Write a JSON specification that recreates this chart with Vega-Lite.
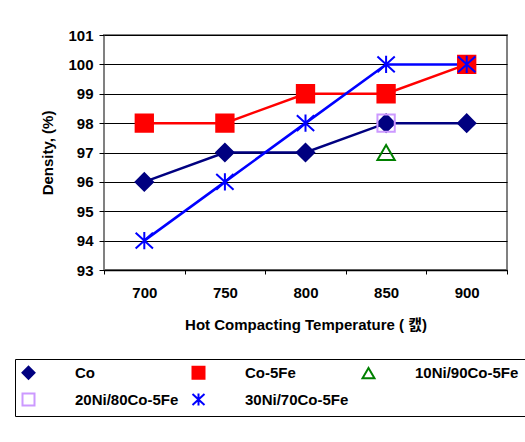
{
  "$schema": "https://vega.github.io/schema/vega-lite/v6.json",
  "width": 403,
  "height": 235,
  "autosize": "none",
  "padding": {"left": 104, "top": 35, "right": 18, "bottom": 172},
  "background": "white",
  "config": {
    "font": "Liberation Sans, Arial, Noto Sans CJK KR",
    "view": {"stroke": "#808080", "strokeWidth": 2},
    "axis": {
      "labelFont": "Liberation Sans, Arial, Noto Sans CJK KR",
      "labelFontSize": 15,
      "labelFontWeight": "bold",
      "labelColor": "black",
      "titleFont": "Liberation Sans, Arial, Noto Sans CJK KR",
      "titleFontSize": 15,
      "titleFontWeight": "bold",
      "titleColor": "black",
      "tickColor": "black",
      "domainColor": "black"
    },
    "legend": {
      "columns": 3,
      "columnPadding": 9,
      "rowPadding": 6,
      "padding": 6,
      "strokeColor": "black",
      "fillColor": "white",
      "labelFont": "Liberation Sans, Arial",
      "labelFontSize": 15,
      "labelFontWeight": "bold",
      "labelColor": "black",
      "labelOffset": 39,
      "labelLimit": 220,
      "symbolSize": 144,
      "symbolStrokeWidth": 2
    }
  },
  "data": {
    "values": [
      {"series": "Co", "temp": 700, "density": 96},
      {"series": "Co", "temp": 750, "density": 97},
      {"series": "Co", "temp": 800, "density": 97},
      {"series": "Co", "temp": 850, "density": 98},
      {"series": "Co", "temp": 900, "density": 98},
      {"series": "Co-5Fe", "temp": 700, "density": 98},
      {"series": "Co-5Fe", "temp": 750, "density": 98},
      {"series": "Co-5Fe", "temp": 800, "density": 99},
      {"series": "Co-5Fe", "temp": 850, "density": 99},
      {"series": "Co-5Fe", "temp": 900, "density": 100},
      {"series": "10Ni/90Co-5Fe", "temp": 850, "density": 97},
      {"series": "20Ni/80Co-5Fe", "temp": 850, "density": 98},
      {"series": "30Ni/70Co-5Fe", "temp": 700, "density": 94},
      {"series": "30Ni/70Co-5Fe", "temp": 750, "density": 96},
      {"series": "30Ni/70Co-5Fe", "temp": 800, "density": 98},
      {"series": "30Ni/70Co-5Fe", "temp": 850, "density": 100},
      {"series": "30Ni/70Co-5Fe", "temp": 900, "density": 100}
    ]
  },
  "encoding": {
    "x": {
      "field": "temp",
      "type": "ordinal",
      "scale": {"type": "band", "paddingInner": 0, "paddingOuter": 0, "domain": [700, 750, 800, 850, 900]},
      "axis": {
        "title": "Hot Compacting Temperature ( 캜)",
        "labelAngle": 0,
        "tickBand": "extent",
        "tickSize": 4,
        "labelPadding": 11,
        "titlePadding": 17,
        "grid": false,
        "domainWidth": 1.5
      }
    },
    "y": {
      "field": "density",
      "type": "quantitative",
      "scale": {"domain": [93, 101], "nice": false, "zero": false},
      "axis": {
        "title": "Density, (%)",
        "values": [93, 94, 95, 96, 97, 98, 99, 100, 101],
        "grid": true,
        "gridColor": "black",
        "gridWidth": 1,
        "domain": false,
        "tickSize": 5,
        "labelPadding": 6,
        "titlePadding": 12
      }
    }
  },
  "layer": [
    {
      "transform": [{"filter": {"field": "series", "oneOf": ["Co", "Co-5Fe", "30Ni/70Co-5Fe"]}}],
      "mark": {"type": "line", "strokeWidth": 2.5},
      "encoding": {
        "color": {
          "field": "series",
          "type": "nominal",
          "scale": {
            "domain": ["Co", "Co-5Fe", "30Ni/70Co-5Fe"],
            "range": ["#000080", "#FF0000", "#0000FF"]
          },
          "legend": null
        }
      }
    },
    {
      "mark": {"type": "point", "filled": true, "size": 300, "strokeWidth": 2, "opacity": 1},
      "encoding": {
        "stroke": {
          "field": "series",
          "type": "nominal",
          "scale": {
            "domain": ["Co", "Co-5Fe", "10Ni/90Co-5Fe", "20Ni/80Co-5Fe", "30Ni/70Co-5Fe"],
            "range": ["#000080", "#FF0000", "#008000", "#CC99FF", "#0000FF"]
          },
          "legend": {
            "title": null,
            "orient": "none",
            "direction": "horizontal",
            "legendX": -89,
            "legendY": 324
          }
        },
        "fill": {
          "field": "series",
          "type": "nominal",
          "scale": {
            "domain": ["Co", "Co-5Fe", "10Ni/90Co-5Fe", "20Ni/80Co-5Fe", "30Ni/70Co-5Fe"],
            "range": ["#000080", "#FF0000", "transparent", "transparent", "transparent"]
          },
          "legend": {
            "title": null,
            "orient": "none",
            "direction": "horizontal",
            "legendX": -89,
            "legendY": 324
          }
        },
        "shape": {
          "field": "series",
          "type": "nominal",
          "scale": {
            "domain": ["Co", "Co-5Fe", "10Ni/90Co-5Fe", "20Ni/80Co-5Fe", "30Ni/70Co-5Fe"],
            "range": ["diamond", "square", "triangle-up", "square", "M0,-1V1M-1,-0.9L1,0.9M-1,0.9L1,-0.9"]
          },
          "legend": {
            "title": null,
            "orient": "none",
            "direction": "horizontal",
            "legendX": -89,
            "legendY": 324
          }
        }
      }
    }
  ]
}
